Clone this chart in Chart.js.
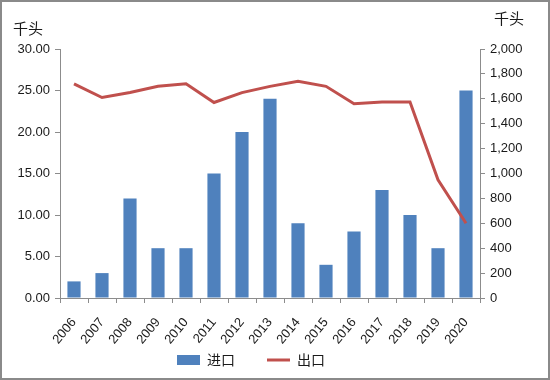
<!DOCTYPE html>
<html>
<head>
<meta charset="utf-8">
<script src="https://cdn.jsdelivr.net/npm/chart.js@4.4.0/dist/chart.umd.min.js"></script>
<style>
    body { margin: 0; background: #fff; }
    #chart-box { width: 550px; height: 380px; position: relative; }
</style>
</head>
<body>
<div id="chart-box">
    <canvas id="trade-chart" width="550" height="380"></canvas>
</div>
<script>
    // Data.
    var years = ['2006', '2007', '2008', '2009', '2010', '2011', '2012', '2013', '2014', '2015', '2016', '2017', '2018', '2019', '2020'];
    var importValues = [2, 3, 12, 6, 6, 15, 20, 24, 9, 4, 8, 13, 10, 6, 25];
    var exportValues = [1720, 1610, 1650, 1700, 1720, 1570, 1650, 1700, 1740, 1700, 1560, 1575, 1575, 950, 600];
    var importLabel = '进口';
    var exportLabel = '出口';
    var unitLabel = '千头';

    var fontFamily = '"Liberation Sans Narrow", "Liberation Sans", "Noto Sans CJK SC", sans-serif';
    var axisColor = '#8c8c8c';
    var textColor = '#1a1a1a';

    // Frame round the picture, the two unit labels, and a nudge of the legend.
    var extras = {
        id: 'extras',
        afterLayout: function(chart) {
            var lg = chart.legend;
            lg.left -= 24;
            lg.right -= 24;
            lg.top = 321;
            lg.bottom = lg.top + lg.height;
        },
        afterDraw: function(chart) {
            var ctx = chart.ctx;
            ctx.save();
            ctx.fillStyle = textColor;
            ctx.font = '15px "Noto Sans CJK SC", sans-serif';
            ctx.textBaseline = 'middle';
            ctx.textAlign = 'left';
            ctx.fillText(unitLabel, 13, 28);
            ctx.fillText(unitLabel, 494, 18);
            ctx.strokeStyle = '#8a8a8a';
            ctx.lineWidth = 2;
            ctx.strokeRect(1, 1, 548, 378);
            ctx.restore();
        }
    };

    var chart_ctx = document.getElementById('trade-chart').getContext('2d');
    var chart = new Chart(chart_ctx, {
        type: 'bar',
        data: {
            labels: years,
            datasets: [{
                type: 'line',
                label: exportLabel,
                data: exportValues,
                yAxisID: 'y1',
                borderColor: '#c0504d',
                backgroundColor: '#c0504d',
                borderWidth: 3,
                pointRadius: 0,
                tension: 0,
                order: 0
            }, {
                type: 'bar',
                label: importLabel,
                data: importValues,
                yAxisID: 'y',
                backgroundColor: '#4f81bd',
                barPercentage: 0.47,
                categoryPercentage: 1,
                order: 1
            }]
        },
        options: {
            responsive: false,
            animation: false,
            layout: {
                padding: { top: 49, left: 0, right: 0, bottom: -24 }
            },
            plugins: {
                tooltip: { enabled: false },
                legend: {
                    position: 'bottom',
                    reverse: true,
                    labels: {
                        usePointStyle: true,
                        pointStyleWidth: 23,
                        boxHeight: 10,
                        padding: 32,
                        color: textColor,
                        font: { family: '"Noto Sans CJK SC", sans-serif', size: 14 },
                        generateLabels: function(chart) {
                            var items = Chart.defaults.plugins.legend.labels.generateLabels(chart);
                            items.forEach(function(item) {
                                var ds = chart.data.datasets[item.datasetIndex];
                                item.pointStyle = ds.type === 'line' ? 'line' : 'rect';
                                item.lineWidth = ds.type === 'line' ? 3 : 0;
                                item.strokeStyle = ds.type === 'line' ? '#c0504d' : '#4f81bd';
                            });
                            return items;
                        }
                    }
                }
            },
            scales: {
                x: {
                    offset: true,
                    grid: { display: true, offset: true, drawOnChartArea: false, color: axisColor, tickLength: 5 },
                    border: { display: true, color: axisColor },
                    ticks: {
                        autoSkip: false,
                        minRotation: 50,
                        maxRotation: 50,
                        color: textColor,
                        padding: 12,
                        font: { family: fontFamily, size: 13 }
                    },
                    afterFit: function(scale) { scale.height = 50; }
                },
                y: {
                    position: 'left',
                    min: 0,
                    max: 30,
                    ticks: {
                        stepSize: 5,
                        color: textColor,
                        padding: 5,
                        font: { family: fontFamily, size: 13 },
                        callback: function(v) { return v.toFixed(2); }
                    },
                    grid: { display: true, drawOnChartArea: false, color: axisColor, tickLength: 5 },
                    border: { display: true, color: axisColor },
                    afterFit: function(scale) { scale.width = 60; }
                },
                y1: {
                    position: 'right',
                    min: 0,
                    max: 2000,
                    ticks: {
                        stepSize: 200,
                        color: textColor,
                        padding: 5,
                        font: { family: fontFamily, size: 13 },
                        callback: function(v) { return v.toLocaleString('en-US'); }
                    },
                    grid: { display: true, drawOnChartArea: false, color: axisColor, tickLength: 5 },
                    border: { display: true, color: axisColor },
                    afterFit: function(scale) { scale.width = 70; }
                }
            }
        },
        plugins: [extras]
    });
</script>
</body>
</html>
